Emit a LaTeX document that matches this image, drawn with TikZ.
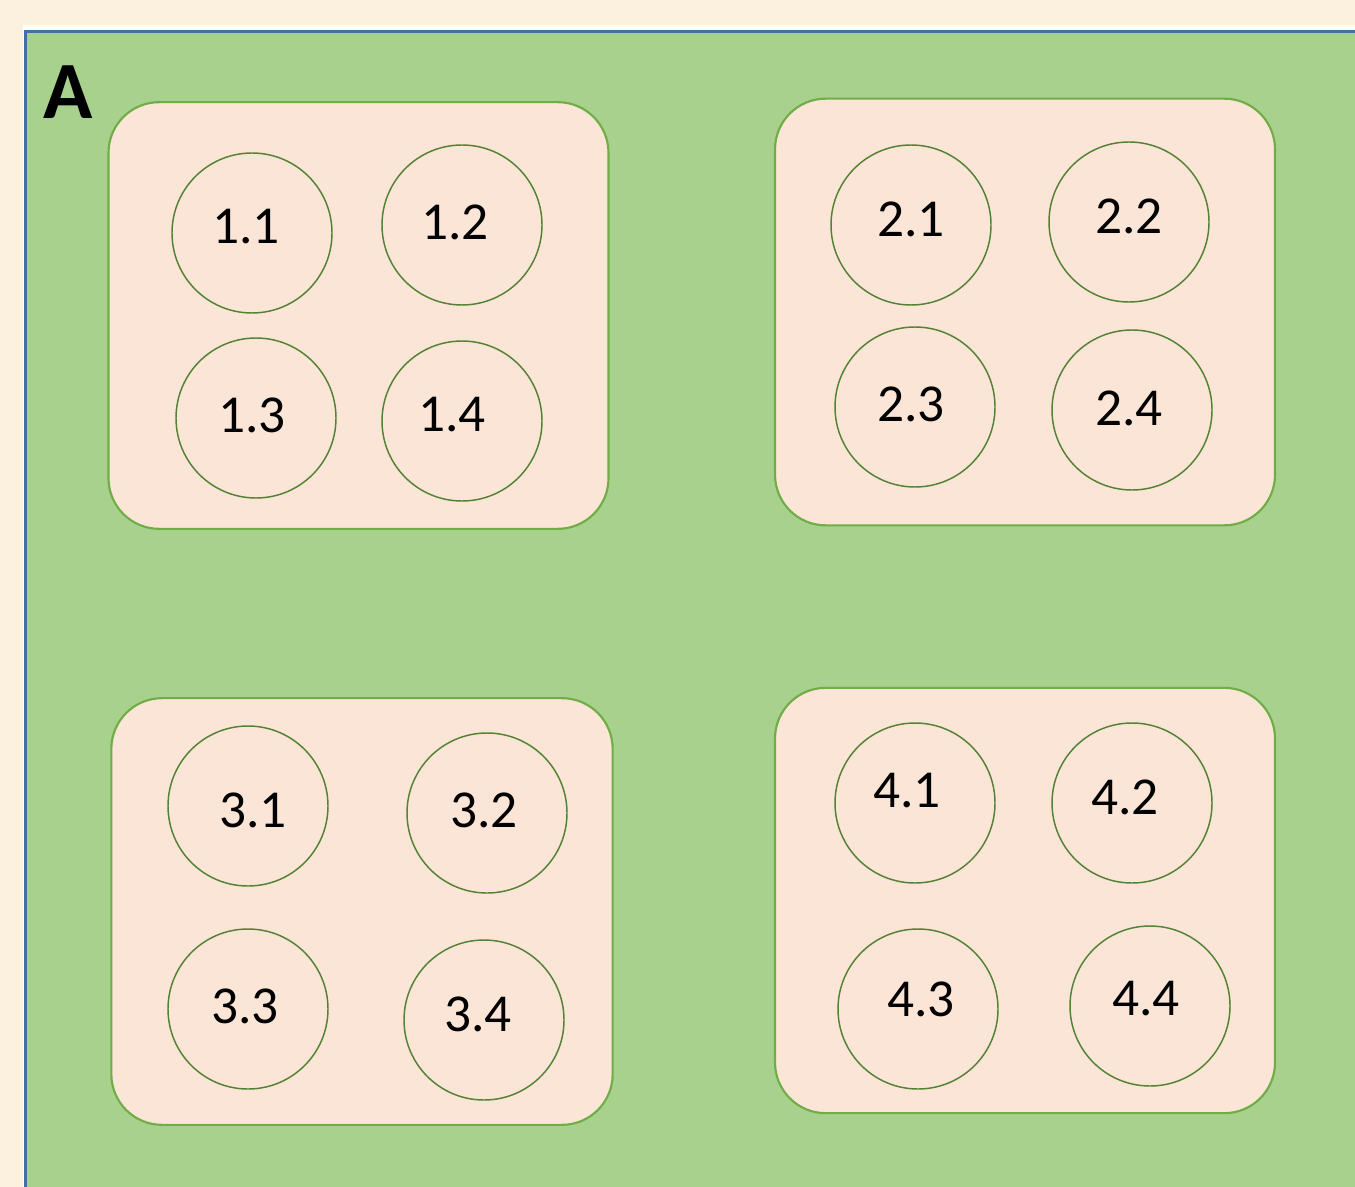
\documentclass[tikz,border=0pt]{standalone}
\usepackage{fontspec}
\setmainfont{Carlito}
\definecolor{parch}{HTML}{FCF1DE}
\definecolor{bgreen}{HTML}{A9D18E}
\definecolor{bblue}{HTML}{41719C}
\definecolor{pinkfill}{HTML}{FBE5D6}
\definecolor{boxline}{HTML}{70AD47}
\definecolor{circline}{HTML}{548235}
\begin{document}
\begin{tikzpicture}[x=0.75pt,y=-0.75pt,
  grp/.style={draw=boxline,line width=1.6pt,fill=pinkfill,rounded corners=38pt},
  well/.style={circle,draw=circline,line width=1.1pt,minimum size=120pt,inner sep=0pt},
  wtxt/.style={inner sep=0pt,font=\fontsize{40}{44}\selectfont},
]
\useasboundingbox (0,0) rectangle (1355,1187);
\fill[parch] (0,0) rectangle (1355,1187);
\fill[white] (23,25) rectangle (1355,1187);
\fill[bgreen] (25,31) rectangle (1355,1187);
\draw[bblue,line width=2.4pt] (25.5,1187) -- (25.5,31.5) -- (1355,31.5);
\node[font=\bfseries\fontsize{61}{64}\selectfont] (lblA) at (68,92) {A};
% groups
\node[grp,minimum width=375pt,minimum height=320pt] (g1) at (358.5,315.5) {};
\node[grp,minimum width=375pt,minimum height=320pt] (g2) at (1025,312) {};
\node[grp,minimum width=376pt,minimum height=320pt] (g3) at (362,911.5) {};
\node[grp,minimum width=375pt,minimum height=319pt] (g4) at (1025,900.5) {};
% wells
\node[well] (w11) at (252,233) {};
\node[well] (w12) at (462,225) {};
\node[well] (w13) at (256,418) {};
\node[well] (w14) at (462,421) {};
\node[well] (w21) at (911,225) {};
\node[well] (w22) at (1129,222) {};
\node[well] (w23) at (915,407) {};
\node[well] (w24) at (1132,410) {};
\node[well] (w31) at (248,806) {};
\node[well] (w32) at (487,813) {};
\node[well] (w33) at (248,1009) {};
\node[well] (w34) at (484,1020) {};
\node[well] (w41) at (915,803) {};
\node[well] (w42) at (1132,803) {};
\node[well] (w43) at (918,1009) {};
\node[well] (w44) at (1150,1006) {};
% well labels
\node[wtxt] (t11) at (246,227) {1.1};
\node[wtxt] (t12) at (455,222) {1.2};
\node[wtxt] (t13) at (252,415) {1.3};
\node[wtxt] (t14) at (452,415) {1.4};
\node[wtxt] (t21) at (911,219) {2.1};
\node[wtxt] (t22) at (1129,216) {2.2};
\node[wtxt] (t23) at (911,404) {2.3};
\node[wtxt] (t24) at (1129,408) {2.4};
\node[wtxt] (t31) at (253,810) {3.1};
\node[wtxt] (t32) at (484,810) {3.2};
\node[wtxt] (t33) at (245,1006) {3.3};
\node[wtxt] (t34) at (478,1014) {3.4};
\node[wtxt] (t41) at (907,791) {4.1};
\node[wtxt] (t42) at (1125,797) {4.2};
\node[wtxt] (t43) at (921,999) {4.3};
\node[wtxt] (t44) at (1146,999) {4.4};
\end{tikzpicture}
\end{document}
